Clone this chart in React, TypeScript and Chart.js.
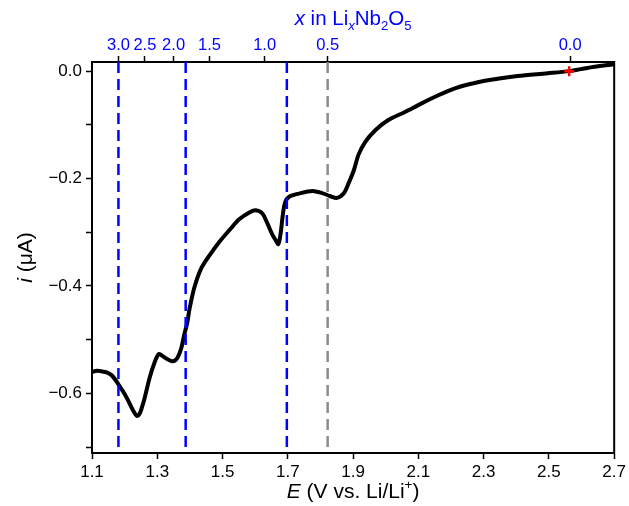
import React, { useEffect, useRef } from 'react';
import { Chart, registerables } from 'chart.js';

Chart.register(...registerables);

// Potential E (V vs. Li/Li+) and current i (µA)
const potentialE = [
  1.100, 1.115, 1.130, 1.145, 1.160, 1.172, 1.185, 1.200, 1.212, 1.226,
  1.238, 1.246, 1.252, 1.262, 1.277, 1.292, 1.304, 1.315, 1.330, 1.345,
  1.356, 1.364, 1.373, 1.383, 1.392, 1.399, 1.414, 1.434, 1.460, 1.490,
  1.521, 1.551, 1.582, 1.602, 1.622, 1.637, 1.653, 1.663, 1.671, 1.678,
  1.685, 1.692, 1.704, 1.734, 1.775, 1.805, 1.831, 1.851, 1.871, 1.886,
  1.902, 1.917, 1.937, 1.968, 2.008, 2.059, 2.110, 2.161, 2.212, 2.252,
  2.313, 2.404, 2.496, 2.562, 2.618, 2.700,
];
const currentI = [
  -0.560, -0.558, -0.559, -0.561, -0.566, -0.575, -0.587, -0.601, -0.615, -0.632,
  -0.642, -0.638, -0.628, -0.607, -0.570, -0.542, -0.527, -0.530, -0.536, -0.540,
  -0.538, -0.531, -0.517, -0.490, -0.468, -0.442, -0.402, -0.368, -0.343, -0.318,
  -0.296, -0.276, -0.263, -0.259, -0.265, -0.283, -0.305, -0.315, -0.322, -0.302,
  -0.266, -0.244, -0.234, -0.228, -0.223, -0.227, -0.233, -0.236, -0.228, -0.209,
  -0.185, -0.155, -0.132, -0.110, -0.091, -0.076, -0.060, -0.045, -0.032, -0.025,
  -0.017, -0.009, -0.004, 0.000, 0.006, 0.013,
];

const bottomTicks = [1.1, 1.3, 1.5, 1.7, 1.9, 2.1, 2.3, 2.5, 2.7];
const bottomTickLabels = ['1.1', '1.3', '1.5', '1.7', '1.9', '2.1', '2.3', '2.5', '2.7'];
const yTicks = [0, -0.1, -0.2, -0.3, -0.4, -0.5, -0.6, -0.7];
const yTickLabels = ['0.0', '', '\u22120.2', '', '\u22120.4', '', '\u22120.6', ''];
// top axis: x in LixNb2O5, placed at the matching potential
const topTickE = [1.181, 1.262, 1.350, 1.460, 1.629, 1.822, 2.565];
const topTickLabels = ['3.0', '2.5', '2.0', '1.5', '1.0', '0.5', '0.0'];

const blueLinesE = [1.181, 1.387, 1.697];
const greyLinesE = [1.822];
const markerE = [2.562];
const markerI = [0.0];

const X_MIN = 1.1;
const X_MAX = 2.7;
const Y_MIN = -0.711;
const Y_MAX = 0.017;

const FONT = "'Liberation Sans', Arial, sans-serif";
const BLUE = '#0000ff';

type Seg = { t: string; it?: boolean; sub?: boolean; sup?: boolean };

function drawRich(ctx: CanvasRenderingContext2D, segs: Seg[], cx: number, baseline: number, size: number, color: string) {
  const fontFor = (s: Seg) => {
    const sz = s.sub || s.sup ? size * 0.64 : size;
    return `${s.it ? 'italic ' : ''}${sz}px ${FONT}`;
  };
  let total = 0;
  const widths = segs.map((s) => {
    ctx.font = fontFor(s);
    const w = ctx.measureText(s.t).width;
    total += w;
    return w;
  });
  let x = cx - total / 2;
  ctx.fillStyle = color;
  ctx.textAlign = 'left';
  ctx.textBaseline = 'alphabetic';
  segs.forEach((s, k) => {
    ctx.font = fontFor(s);
    const dy = s.sub ? size * 0.26 : s.sup ? -size * 0.42 : 0;
    ctx.fillText(s.t, x, baseline + dy);
    x += widths[k];
  });
}

const titlesPlugin = {
  id: 'titles',
  afterDraw(chart: any) {
    const ctx: CanvasRenderingContext2D = chart.ctx;
    const a = chart.chartArea;
    const cx = (a.left + a.right) / 2;
    ctx.save();
    // right frame line
    ctx.strokeStyle = '#000';
    ctx.lineWidth = 2;
    ctx.beginPath();
    ctx.moveTo(a.right, a.top - 1);
    ctx.lineTo(a.right, a.bottom + 1);
    ctx.stroke();
    drawRich(ctx, [
      { t: 'x', it: true }, { t: ' in Li' }, { t: 'x', it: true, sub: true },
      { t: 'Nb' }, { t: '2', sub: true }, { t: 'O' }, { t: '5', sub: true },
    ], cx, 25, 20.5, BLUE);
    drawRich(ctx, [
      { t: 'E', it: true }, { t: ' (V vs. Li/Li' }, { t: '+', sup: true }, { t: ')' },
    ], cx, 498, 21, '#000');
    ctx.translate(32, (a.top + a.bottom) / 2);
    ctx.rotate(-Math.PI / 2);
    drawRich(ctx, [{ t: 'i', it: true }, { t: ' (\u03bcA)' }], 0, 0, 21, '#000');
    ctx.restore();
  },
};

const vline = (e: number, color: string) => ({
  type: 'line' as const,
  data: [{ x: e, y: Y_MAX }, { x: e, y: Y_MIN }],
  borderColor: color,
  borderWidth: 2.5,
  borderDash: [11, 6],
  pointRadius: 0,
  order: 1,
  xAxisID: 'x',
  yAxisID: 'y',
});

export default function App() {
  const ref = useRef<HTMLCanvasElement | null>(null);
  useEffect(() => {
    if (!ref.current) return;
    const tickFont = { family: FONT, size: 17 };
    const grid = {
      display: true,
      drawOnChartArea: false,
      drawTicks: true,
      tickLength: 6,
      tickWidth: 1.5,
      tickColor: '#000',
    };
    const border = { display: true, color: '#000', width: 2 };
    const chart = new Chart(ref.current, {
      type: 'line',
      data: {
        datasets: [
          {
            type: 'line',
            data: markerE.map((e, k) => ({ x: e, y: markerI[k] })),
            showLine: false,
            pointStyle: 'cross',
            pointRadius: 5,
            pointBorderWidth: 2.5,
            pointBorderColor: '#ff0000',
            borderColor: '#ff0000',
            order: 0,
          } as any,
          ...blueLinesE.map((e) => vline(e, BLUE)),
          ...greyLinesE.map((e) => vline(e, '#8c8c8c')),
          {
            type: 'line',
            data: potentialE.map((e, k) => ({ x: e, y: currentI[k] })),
            borderColor: '#000',
            borderWidth: 4,
            pointRadius: 0,
            tension: 0.3,
            order: 2,
          },
        ],
      },
      options: {
        responsive: false,
        animation: false,
        layout: { padding: { left: 0, right: 12, top: 0, bottom: 0 } },
        plugins: { legend: { display: false }, tooltip: { enabled: false } },
        scales: {
          x: {
            type: 'linear',
            position: 'bottom',
            min: X_MIN,
            max: X_MAX,
            grid,
            border,
            afterBuildTicks: (s: any) => { s.ticks = bottomTicks.map((v) => ({ value: v })); },
            afterFit: (s: any) => { s.height = 53; },
            ticks: {
              color: '#000',
              font: tickFont,
              padding: 3,
              maxRotation: 0,
              autoSkip: false,
              callback: (_v: any, i: number) => bottomTickLabels[i],
            },
          },
          xTop: {
            type: 'linear',
            position: 'top',
            min: X_MIN,
            max: X_MAX,
            grid,
            border,
            afterBuildTicks: (s: any) => { s.ticks = topTickE.map((v) => ({ value: v })); },
            afterFit: (s: any) => { s.height = 62; },
            ticks: {
              color: BLUE,
              font: { family: FONT, size: 16.5 },
              padding: 1,
              maxRotation: 0,
              autoSkip: false,
              callback: (_v: any, i: number) => topTickLabels[i],
            },
          },
          y: {
            type: 'linear',
            min: Y_MIN,
            max: Y_MAX,
            grid,
            border,
            afterBuildTicks: (s: any) => { s.ticks = yTicks.map((v) => ({ value: v })); },
            afterFit: (s: any) => { s.width = 92; },
            ticks: {
              color: '#000',
              font: tickFont,
              padding: 4,
              autoSkip: false,
              callback: (_v: any, i: number) => yTickLabels[i],
            },
          },
        },
      } as any,
      plugins: [titlesPlugin],
    });
    return () => chart.destroy();
  }, []);
  return (
    <div style={{ position: 'absolute', left: 0, top: 0, width: 629, height: 506, background: '#fff' }}>
      <canvas ref={ref} width={629} height={506} style={{ display: 'block' }} />
    </div>
  );
}
